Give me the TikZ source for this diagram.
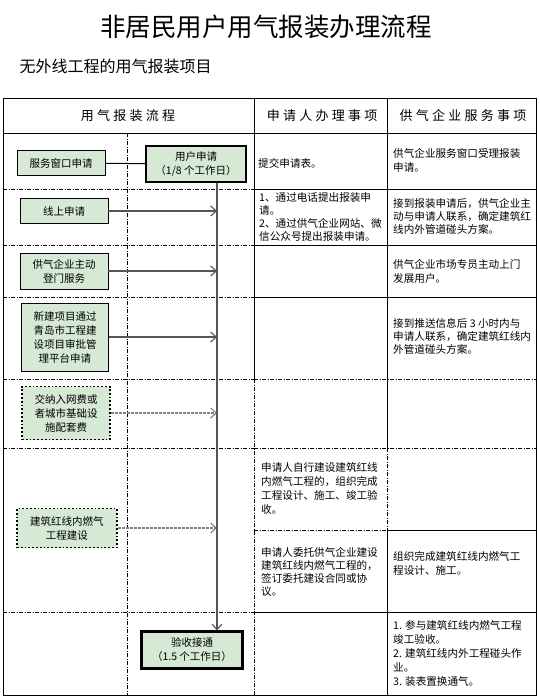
\documentclass[tikz,border=0pt]{standalone}
\usepackage{fontspec}
\setmainfont{Noto Sans CJK SC}
\newfontfamily\headfont[LetterSpace=25]{Noto Sans CJK SC}
\usetikzlibrary{arrows.meta}
\definecolor{boxgreen}{RGB}{213,233,212}
\definecolor{arrowgray}{RGB}{85,85,85}
\tikzset{
  flowbox/.style={draw,fill=boxgreen,line width=0.9pt,align=center,inner sep=2pt,
    font=\fontsize{10.5}{14}\selectfont},
  keybox/.style={flowbox,line width=2.2pt},
  optbox/.style={flowbox,line width=1.8pt,dotted},
  celltext/.style={anchor=west,align=left,inner sep=0pt,font=\fontsize{10.6}{13.4}\selectfont},
  headtext/.style={font=\headfont\fontsize{13}{15}\selectfont},
  tableline/.style={line width=0.9pt},
  tabledash/.style={line width=0.8pt,dash pattern=on 4pt off 1.5pt on 1pt off 1.5pt},
  feed/.style={arrowgray,line width=1.1pt,-{Straight Barb[length=5.5pt,width=10pt]}},
  optfeed/.style={feed,gray,dash pattern=on 3pt off 1pt},
}
\begin{document}
\begin{tikzpicture}[x=1pt,y=-1pt]
  \useasboundingbox (0,0) rectangle (539,699);
  \node (title) at (266,27) [font=\fontsize{25.5}{30}\selectfont] {非居民用户用气报装办理流程};
  \node (subtitle) at (16,66) [anchor=west,font=\fontsize{16}{19}\selectfont] {无外线工程的用气报装项目};
  % table
  \draw[tableline] (3,98) rectangle (536,695);
  \draw[tableline] (3,133)--(536,133);
  \draw[tableline] (254,98)--(254,379);
  \draw[tableline] (387,98)--(387,448);
  \draw[tableline] (387,530)--(387,695);
  \draw[tabledash] (387,448)--(387,530);
  \draw[tabledash] (254,379)--(254,695);
  \draw[tabledash] (127,133)--(127,695);
  \foreach \y in {189,245,297,379,448,612}
    \draw[tabledash] (3,\y)--(254,\y);
  \foreach \y in {189,245,297,612}
    \draw[tableline] (254,\y)--(536,\y);
  \draw[tabledash] (254,379)--(536,379);
  \draw[tabledash] (254,448)--(536,448);
  \draw[tabledash] (254,530)--(387,530);
  \draw[tableline] (387,530)--(536,530);
  % header
  \node[headtext] (hflow) at (128,116) {用气报装流程};
  \node[headtext] (happ) at (322,116) {申请人办理事项};
  \node[headtext] (hsup) at (463,116) {供气企业服务事项};
  % flow
  \coordinate (trunk) at (217,0);
  \node[flowbox,minimum width=88pt,minimum height=25pt] (fwck) at (61,163) {服务窗口申请};
  \node[keybox,minimum width=100pt,minimum height=36pt] (yhsq) at (196,164) {用户申请\\（1/8 个工作日）};
  \node[flowbox,minimum width=88pt,minimum height=25pt] (xssq) at (64,211) {线上申请};
  \node[flowbox,minimum width=88pt,minimum height=36pt] (gqdm) at (64,271) {供气企业主动\\登门服务};
  \node[flowbox,minimum width=87pt,minimum height=68pt] (xjxm) at (65,337) {新建项目通过\\青岛市工程建\\设项目审批管\\理平台申请};
  \node[optbox,minimum width=88pt,minimum height=53pt] (jnrw) at (66,413) {交纳入网费或\\者城市基础设\\施配套费};
  \node[optbox,minimum width=100pt,minimum height=39pt] (jzhx) at (67,528) {建筑红线内燃气\\工程建设};
  \node[keybox,minimum width=101pt,minimum height=37pt] (ysjt) at (192,650) {验收接通\\（1.5 个工作日）};
  \draw[line width=1pt] (fwck) -- (yhsq);
  \draw[feed] (yhsq.south -| trunk) -- (ysjt.north -| trunk);
  \draw[feed] (xssq.east) -- (xssq.east -| trunk);
  \draw[feed] (gqdm.east) -- (gqdm.east -| trunk);
  \draw[feed] (xjxm.east) -- (xjxm.east -| trunk);
  \draw[optfeed] (jnrw.east) -- (jnrw.east -| trunk);
  \draw[optfeed] (jzhx.east) -- (jzhx.east -| trunk);
  % applicant
  \node[celltext] (c1b) at (258,163) {提交申请表。};
  \node[celltext,font=\fontsize{10.6}{12.8}\selectfont] (c2b) at (259,217) {1、通过电话提出报装申\\请。\\2、通过供气企业网站、微\\信公众号提出报装申请。};
  \node[celltext,font=\fontsize{10.6}{14}\selectfont] (c6ab) at (261,488) {申请人自行建设建筑红线\\内燃气工程的，组织完成\\工程设计、施工、竣工验\\收。};
  \node[celltext,font=\fontsize{10.6}{13}\selectfont] (c6bb) at (261,571.5) {申请人委托供气企业建设\\建筑红线内燃气工程的，\\签订委托建设合同或协\\议。};
  % supplier
  \node[celltext] (c1c) at (393,160.5) {供气企业服务窗口受理报装\\申请。};
  \node[celltext] (c2c) at (393,216.5) {接到报装申请后，供气企业主\\动与申请人联系，确定建筑红\\线内外管道碰头方案。};
  \node[celltext] (c3c) at (393,271.5) {供气企业市场专员主动上门\\发展用户。};
  \node[celltext] (c4c) at (393,336.5) {接到推送信息后 3 小时内与\\申请人联系，确定建筑红线内\\外管道碰头方案。};
  \node[celltext] (c6bc) at (393,563.5) {组织完成建筑红线内燃气工\\程设计、施工。};
  \node[celltext,font=\fontsize{10.6}{14}\selectfont] (c7c) at (393,653) {1. 参与建筑红线内燃气工程\\竣工验收。\\2. 建筑红线内外工程碰头作\\业。\\3. 装表置换通气。};
\end{tikzpicture}
\end{document}
